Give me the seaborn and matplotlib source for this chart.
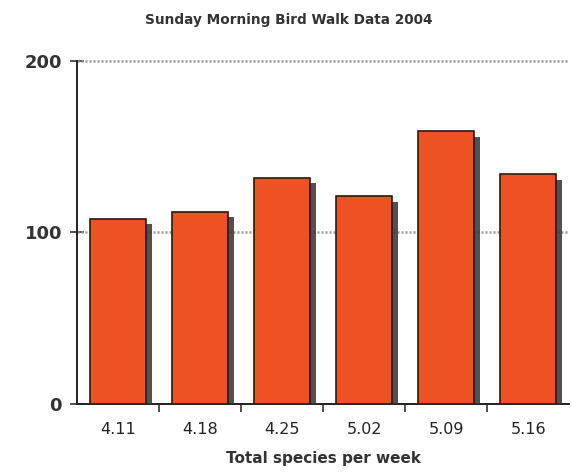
import matplotlib
matplotlib.use("Agg")
import matplotlib.pyplot as plt
import matplotlib.patheffects as pe
from matplotlib.ticker import FixedLocator
import seaborn as sns
import pandas as pd

# weekly walk dates and total species counted
weeks = ["4.11", "4.18", "4.25", "5.02", "5.09", "5.16"]
species = [108, 112, 132, 121, 159, 134]

df = pd.DataFrame({"week": weeks, "species": species})

sns.set_style("white")
plt.rcParams["font.family"] = ["DejaVu Sans"]

fig = plt.figure(figsize=(5.72, 4.72), dpi=100)
ax = fig.add_axes([0.135, 0.144, 0.86, 0.727])

sns.barplot(data=df, x="week", y="species", color="#EE5122", saturation=1,
            width=0.68, edgecolor="#2a1a14", linewidth=1.2, ax=ax, zorder=3)

for bar in ax.patches:
    bar.set_path_effects([pe.SimplePatchShadow(offset=(4, -4), shadow_rgbFace="#333333", alpha=0.85),
                          pe.Normal()])

ax.set_ylim(0, 200)
ax.set_xlim(-0.5, len(weeks) - 0.5)
ax.set_yticks([0, 100, 200])
ax.set_yticklabels(["0", "100", "200"], fontsize=13, fontweight="bold", color="#333333")
for y in [100, 200]:
    ax.axhline(y, color="#999999", linestyle=(0, (0.8, 0.8)), linewidth=1.8, zorder=1,
               clip_on=False)

ax.xaxis.set_minor_locator(FixedLocator([i + 0.5 for i in range(len(weeks) - 1)]))
ax.tick_params(axis="x", which="major", length=0, labelsize=11.5, pad=13, colors="#222222")
ax.tick_params(axis="x", which="minor", bottom=True, length=6, width=1.2, direction="out", color="#333333")
ax.tick_params(axis="y", left=True, length=10, width=1.2, direction="inout", pad=6, color="#333333")

sns.despine(ax=ax, top=True, right=True)
ax.spines["left"].set_color("#222222")
ax.spines["left"].set_linewidth(1.4)
ax.spines["bottom"].set_color("#222222")
ax.spines["bottom"].set_linewidth(1.4)

ax.set_ylabel("")
ax.set_xlabel("Total species per week", fontsize=11, fontweight="bold", color="#333333", labelpad=10)
fig.suptitle("Sunday Morning Bird Walk Data 2004", x=0.505, y=0.972, fontsize=9.8,
             fontweight="bold", color="#333333")

fig.savefig("out.png", dpi=100)
